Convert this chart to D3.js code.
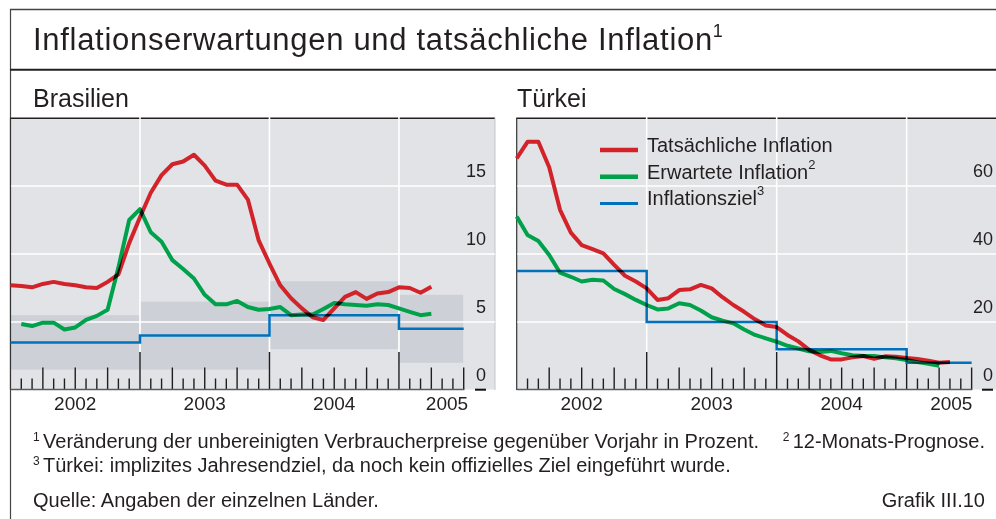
<!DOCTYPE html>
<html>
<head>
<meta charset="utf-8">
<script src="https://cdn.jsdelivr.net/npm/d3@7"></script>
<style>
  body { margin: 0; background: #fff; }
  svg { display: block; }
  text { font-family: "Liberation Sans", Arial, sans-serif; fill: #231f20; }
</style>
</head>
<body>
<svg id="chart" width="996" height="519"></svg>
<script>
// monthly points, index 0 = start of 2002
const yearLabels = ["2002", "2003", "2004", "2005"];

const brazilActual = [7.7, 7.65, 7.55, 7.8, 7.95, 7.8, 7.7, 7.55, 7.5, 7.95, 8.5, 10.8,
  12.7, 14.5, 15.8, 16.6, 16.8, 17.3, 16.5, 15.4, 15.1, 15.1, 14.0, 11.0,
  9.3, 7.7, 6.75, 6.0, 5.35, 5.15, 6.0, 6.85, 7.2, 6.7, 7.1, 7.2,
  7.55, 7.5, 7.15, 7.6];
const brazilExpected = [null, 4.85, 4.7, 4.95, 4.95, 4.45, 4.6, 5.15, 5.45, 5.9, 9.0, 12.5,
  13.3, 11.6, 10.9, 9.55, 8.9, 8.2, 7.0, 6.3, 6.3, 6.55, 6.1, 5.9,
  5.95, 6.1, 5.5, 5.55, 5.55, 5.95, 6.4, 6.3, 6.25, 6.2, 6.3, 6.25,
  6.0, 5.75, 5.5, 5.6];
const brazilTarget = [3.5, 4, 5.5, 4.5];
const brazilBandLow = [1.5, 1.5, 3, 2];
const brazilBandHigh = [5.5, 6.5, 8, 7];
const brazilTicks = [0, 5, 10, 15];

const turkeyActual = [68.1, 73, 73, 65.5, 53, 46.3, 42.6, 41.4, 40.2, 36.8, 33.6, 31.9,
  29.9, 26.5, 27, 29.4, 29.6, 30.9, 29.9, 27.3, 25, 23, 20.8, 19.0,
  18.5, 16.2, 14.3, 11.8, 10.2, 9.0, 9.0, 9.6, 10.0, 9.2, 9.9, 9.8,
  9.4, 9.1, 8.6, 8.0, 8.2];
const turkeyExpected = [51, 45.6, 43.8, 39.7, 34.5, 33.3, 31.9, 32.4, 32.2, 29.7, 28.2, 26.5,
  25, 23.7, 24, 25.5, 25, 23.4, 21.4, 20.4, 19.6, 17.8, 16.2, 15.2,
  14.2, 13.0, 12.2, 11.4, 11.2, 11.5, 10.8, 10.2, 10.0, 10.0, 9.6, 9.3,
  8.8, 8.2, 7.7, 7.1];
const turkeyTarget = [35, 20, 12, 8];
const turkeyTicks = [0, 20, 40, 60];

const legendLabels = [["Tatsächliche Inflation", ""], ["Erwartete Inflation", "2"], ["Inflationsziel", "3"]];

const RED = "#d2232a", GREEN = "#00a14b", BLUE = "#0072bc";
const lastMonth = 42;   // targets and ticks run to mid 2005
const plotTop = 118, plotBottom = 390;

const svg = d3.select("#chart");

// frame + title
svg.append("line").attr("x1", 10).attr("x2", 996).attr("y1", 9.5).attr("y2", 9.5)
  .attr("stroke", "#444").attr("stroke-width", 1.3);
svg.append("line").attr("x1", 10.5).attr("x2", 10.5).attr("y1", 9).attr("y2", 519)
  .attr("stroke", "#444").attr("stroke-width", 1.2);
svg.append("line").attr("x1", 10).attr("x2", 996).attr("y1", 69.8).attr("y2", 69.8)
  .attr("stroke", "#231f20").attr("stroke-width", 2);

const title = svg.append("text").attr("x", 33).attr("y", 50)
  .style("font-size", "31px").style("letter-spacing", "0.7px");
title.append("tspan").text("Inflationserwartungen und tatsächliche Inflation");
title.append("tspan").text("1").style("font-size", "18px").attr("baseline-shift", "75%");

function drawPanel(p) {
  const x = d3.scaleLinear().domain([0, p.monthsShown]).range([p.left, p.right]);
  const y = d3.scaleLinear().domain([0, p.yMax]).range([plotBottom, plotTop]);
  const g = svg.append("g");

  g.append("text").attr("x", p.titleX).attr("y", 107).style("font-size", "25px").text(p.name);

  g.append("rect").attr("x", p.left).attr("y", plotTop).attr("width", p.right - p.left)
    .attr("height", plotBottom - plotTop - 0.5).attr("fill", "#e2e3e7");

  if (p.bandLow) {
    g.selectAll(".band").data(p.bandLow).join("rect")
      .attr("x", (d, i) => x(i * 12) + 0.5)
      .attr("width", (d, i) => x(Math.min(i * 12 + 12, lastMonth)) - x(i * 12) - 1)
      .attr("y", (d, i) => y(p.bandHigh[i]))
      .attr("height", (d, i) => y(d) - y(p.bandHigh[i]))
      .attr("fill", "#cdd0d6");
  }

  // panel borders
  g.append("line").attr("x1", p.left - 0.5).attr("x2", p.right).attr("y1", plotTop + 0.3).attr("y2", plotTop + 0.3)
    .attr("stroke", "#231f20").attr("stroke-width", 1.6);
  g.append("line").attr("x1", p.left).attr("x2", p.left).attr("y1", plotTop).attr("y2", plotBottom)
    .attr("stroke", "#333").attr("stroke-width", 1.2);
  if (p.rightBorder) {
    g.append("line").attr("x1", p.right).attr("x2", p.right).attr("y1", plotTop).attr("y2", plotBottom)
      .attr("stroke", "#c4c5c9").attr("stroke-width", 1);
  }

  // grid
  g.selectAll(".hg").data(p.ticks.filter(d => d > 0)).join("line")
    .attr("x1", p.left + 0.6).attr("x2", p.right)
    .attr("y1", d => y(d)).attr("y2", d => y(d))
    .attr("stroke", "#fff").attr("stroke-width", 1.5);
  g.selectAll(".vg").data([12, 24, 36]).join("line")
    .attr("x1", d => x(d)).attr("x2", d => x(d))
    .attr("y1", plotTop - 1).attr("y2", plotBottom - 38)
    .attr("stroke", "#fff").attr("stroke-width", 1.6);

  // month / quarter / year ticks
  g.selectAll(".tk").data(d3.range(1, lastMonth + 1)).join("line")
    .attr("x1", d => x(d)).attr("x2", d => x(d))
    .attr("y1", d => plotBottom - (d % 12 === 0 ? 38 : d % 3 === 0 ? 22.5 : 11.5))
    .attr("y2", plotBottom - 0.5)
    .attr("stroke", "#1f1f1f").attr("stroke-width", 1.4);

  g.append("line").attr("x1", p.left).attr("x2", x(lastMonth) + 0.7)
    .attr("y1", plotBottom - 0.5).attr("y2", plotBottom - 0.5)
    .attr("stroke", "#5a5b5e").attr("stroke-width", 1.5);
  g.append("line").attr("x1", p.labelX - 11).attr("x2", p.labelX)
    .attr("y1", plotBottom - 0.3).attr("y2", plotBottom - 0.3)
    .attr("stroke", "#111").attr("stroke-width", 2);

  // y labels
  g.selectAll(".yl").data(p.ticks).join("text")
    .attr("x", p.labelX).attr("y", d => y(d) - 9.5)
    .attr("text-anchor", "end").style("font-size", "18px")
    .text(d => d);

  // year labels
  g.selectAll(".xl").data(yearLabels).join("text")
    .attr("x", (d, i) => x(Math.min(i * 12 + 6, (i * 12 + p.monthsShown) / 2)))
    .attr("y", 410).attr("text-anchor", "middle").style("font-size", "19px")
    .text(d => d);

  // series
  const lines = g.append("g").style("isolation", "isolate");
  const stepPts = p.target.map((v, i) => [i * 12, v]).concat([[lastMonth, p.target[p.target.length - 1]]]);
  const line = d3.line().defined(d => d[1] != null).x(d => x(d[0])).y(d => y(d[1]));

  lines.append("path").datum(stepPts)
    .attr("d", line.curve(d3.curveStepAfter))
    .attr("fill", "none").attr("stroke", BLUE).attr("stroke-width", 2.5)
    .style("mix-blend-mode", "multiply");
  line.curve(d3.curveLinear);
  lines.append("path").datum(p.expected.map((v, i) => [i, v]))
    .attr("d", line).attr("fill", "none").attr("stroke", GREEN).attr("stroke-width", 4)
    .attr("stroke-linejoin", "round").style("mix-blend-mode", "multiply");
  lines.append("path").datum(p.actual.map((v, i) => [i, v]))
    .attr("d", line).attr("fill", "none").attr("stroke", RED).attr("stroke-width", 4)
    .attr("stroke-linejoin", "round").style("mix-blend-mode", "multiply");

  return g;
}

drawPanel({
  name: "Brasilien", titleX: 33, left: 10.5, right: 495, monthsShown: 44.9, labelX: 486,
  yMax: 20, ticks: brazilTicks, rightBorder: true,
  actual: brazilActual, expected: brazilExpected, target: brazilTarget,
  bandLow: brazilBandLow, bandHigh: brazilBandHigh
});

const tr = drawPanel({
  name: "Türkei", titleX: 517, left: 516.7, right: 996, monthsShown: 44.25, labelX: 993,
  yMax: 80, ticks: turkeyTicks, rightBorder: false,
  actual: turkeyActual, expected: turkeyExpected, target: turkeyTarget
});

// legend
const legend = tr.append("g");
const legendColors = [RED, GREEN, BLUE];
const legendWidths = [4.5, 4.5, 3];
legendLabels.forEach((l, i) => {
  const yy = 152 + i * 26.7;
  legend.append("line").attr("x1", 600).attr("x2", 638).attr("y1", yy - 2).attr("y2", yy - 2)
    .attr("stroke", legendColors[i]).attr("stroke-width", legendWidths[i]);
  const t = legend.append("text").attr("x", 647).attr("y", yy).style("font-size", "20px");
  t.append("tspan").text(l[0]);
  if (l[1]) t.append("tspan").text(l[1]).style("font-size", "13px").attr("baseline-shift", "75%");
});

// footnotes
const foot = svg.append("g").style("font-size", "20px");
function note(xx, yy, sup, txt, anchor) {
  const t = foot.append("text").attr("x", xx).attr("y", yy).attr("text-anchor", anchor || "start");
  if (sup) t.append("tspan").text(sup + " ").style("font-size", "12px").attr("baseline-shift", "55%");
  t.append("tspan").text(txt);
}
note(33, 448, "1", "Veränderung der unbereinigten Verbraucherpreise gegenüber Vorjahr in Prozent.");
note(985, 448, "2", "12-Monats-Prognose.", "end");
note(33, 472, "3", "Türkei: implizites Jahresendziel, da noch kein offizielles Ziel eingeführt wurde.");
note(33, 507, null, "Quelle: Angaben der einzelnen Länder.");
note(985, 507, null, "Grafik III.10", "end");
</script>
</body>
</html>
